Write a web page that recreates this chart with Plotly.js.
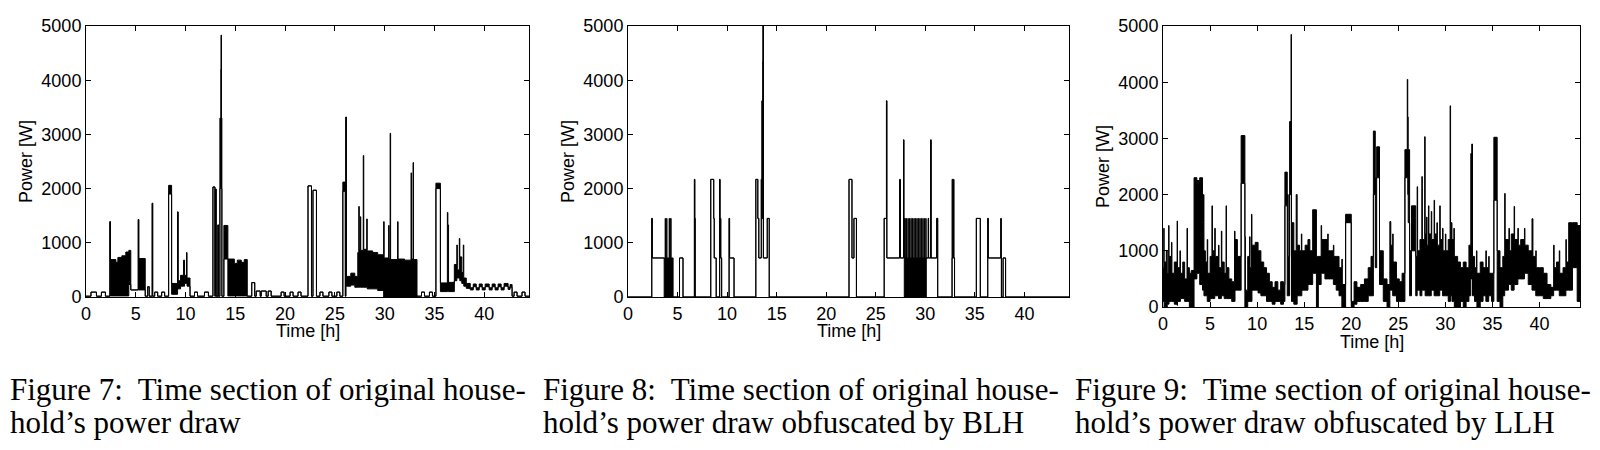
<!DOCTYPE html>
<html>
<head>
<meta charset="utf-8">
<script src="https://cdn.plot.ly/plotly-3.0.1.min.js"></script>
<style>
  html, body { margin: 0; padding: 0; background: #fff; }
  #chart { width: 1600px; height: 450px; }
</style>
</head>
<body>
<div id="chart"></div>
<script>
// Each row: [time h, low W, high W], held until the next row (step data, min/max per segment)
const seg7 = [
  [0,15,15],[0.5,90,90],[1.05,15,15],[1.55,90,90],[1.95,15,15],
  [2.4,1390,1390],[2.45,20,690],[3.0,20,640],[3.2,20,730],[3.6,20,760],[4.0,20,830],[4.3,230,860],[4.5,130,130],
  [5.25,1430,1430],[5.3,130,710],[5.95,15,15],[6.2,190,190],[6.35,15,15],[6.65,1730,1730],[6.7,15,15],
  [6.9,90,90],[7.2,15,15],[7.6,90,90],[7.9,15,15],
  [8.3,1900,2060],[8.6,50,250],[9.2,1570,1570],[9.25,150,300],[9.5,200,400],[9.8,200,680],[9.9,250,400],
  [10.1,250,820],[10.15,200,350],[10.45,15,15],
  [10.9,90,90],[11.2,15,15],[11.9,90,90],[12.3,15,15],
  [12.75,2030,2030],[12.95,15,15],[13.0,1990,1990],[13.08,15,15],[13.25,1330,1330],[13.3,15,15],
  [13.45,2000,3300],[13.55,2000,4200],[13.58,4830,4830],[13.61,2000,3300],[13.65,15,15],
  [13.85,700,1320],[14.25,20,700],[14.9,20,620],[15.2,20,680],[15.6,20,640],[15.9,20,690],[16.2,15,15],
  [16.65,265,265],[16.95,15,15],[17.1,110,110],[17.5,15,15],[17.6,110,110],[18.1,15,15],[18.3,110,110],[18.6,15,15],
  [19.6,90,90],[19.9,15,15],[20.5,90,90],[20.8,15,15],[21.3,90,90],[21.6,15,15],
  [22.3,2050,2050],[22.65,15,15],[22.8,1970,1970],[23.15,15,15],
  [23.5,90,90],[23.8,15,15],[24.4,90,90],[24.7,15,15],[25.2,90,90],[25.5,15,15],
  [25.8,1950,2120],[26.05,15,15],[26.1,3320,3320],[26.15,200,380],[26.6,220,440],[27.0,180,380],[27.3,180,820],
  [27.4,180,1670],[27.45,180,870],[27.55,180,1480],[27.6,180,860],[27.85,180,2610],[27.9,180,880],
  [28.2,180,1440],[28.25,150,850],[28.8,150,820],[29.3,120,780],
  [29.9,0,1390],[29.95,0,720],[30.4,0,1320],[30.45,0,700],[30.55,0,3020],[30.6,0,690],[31.3,0,1390],[31.35,0,700],
  [32.0,0,680],[32.65,0,2290],[32.7,0,700],[32.85,0,2480],[32.9,0,690],[33.25,15,15],
  [33.7,90,90],[34.0,15,15],[34.5,90,90],[34.8,15,15],
  [35.15,2000,2100],[35.6,100,260],[36.3,100,1560],[36.35,100,1330],[36.42,100,270],
  [37.0,300,600],[37.25,350,960],[37.3,350,500],[37.5,350,1080],[37.55,300,740],[37.75,250,450],[37.9,250,960],[37.95,200,350],
  [38.2,160,250],[38.6,130,170],[38.9,190,240],[39.2,130,170],[39.5,190,240],[39.8,130,170],[40.1,190,240],
  [40.5,130,170],[40.8,190,240],[41.1,130,170],[41.4,190,240],[41.7,130,170],[42.0,200,250],[42.4,140,180],
  [42.6,180,230],[42.8,15,15],[43.0,90,90],[43.3,15,15],[43.8,90,90],[44.1,15,15],[44.5,15,15]
];

const seg8 = [
  [0,0,0],[2.4,1450,1450],[2.45,720,720],[3.65,0,720],[3.75,0,1450],[3.78,0,720],[3.9,0,1450],[3.93,0,720],
  [4.15,0,1450],[4.2,0,720],[4.3,0,1450],[4.35,0,720],[4.55,0,0],
  [5.2,720,720],[5.55,0,0],[6.7,2170,2170],[6.74,1450,1450],[6.78,0,0],
  [8.35,2170,2170],[8.65,1450,1450],[8.7,720,720],[8.9,0,0],
  [9.25,2170,2170],[9.28,720,1450],[9.38,720,720],[9.45,0,0],
  [10.2,1450,1450],[10.25,720,720],[10.7,0,0],
  [12.9,2170,2170],[13.1,1450,1450],[13.2,720,720],[13.45,2170,2170],[13.5,1450,3620],[13.6,2170,4350],
  [13.63,5000,5000],[13.66,720,720],[14.05,1450,1450],[14.25,0,0],
  [22.3,2170,2170],[22.6,720,720],[22.8,1450,1450],[23.05,0,0],
  [25.85,1450,1450],[26.08,3620,3620],[26.12,720,720],[27.4,720,2170],[27.5,720,720],[27.8,2900,2900],
  [27.84,1450,1450],[27.88,0,720],
  [27.95,0,1450],[27.98,0,720],[28.1,0,1450],[28.13,0,720],[28.25,0,1450],[28.28,0,720],[28.4,0,1450],[28.43,0,720],
  [28.55,0,1450],[28.58,0,720],[28.7,0,1450],[28.73,0,720],[28.85,0,1450],[28.88,0,720],[29.0,0,1450],[29.03,0,720],
  [29.15,0,1450],[29.18,0,720],[29.3,0,1450],[29.33,0,720],[29.45,0,1450],[29.48,0,720],[29.6,0,1450],[29.63,0,720],
  [29.75,0,1450],[29.78,0,720],[29.9,0,1450],[29.93,0,720],[30.05,0,1450],[30.08,0,720],
  [30.1,720,720],[30.3,1450,1450],[30.33,720,720],[30.55,2900,2900],[30.58,720,720],[31.15,1450,1450],[31.25,0,0],
  [32.7,720,2170],[32.9,720,720],[32.95,0,0],
  [35.15,1450,1450],[35.55,0,0],
  [36.3,1450,1450],[36.35,720,720],[37.6,720,1450],[37.68,0,0],[37.85,720,720],[38.1,0,0],[44.5,0,0]
];

const seg9 = [
  [0.0,100,700],[0.08,100,1400],[0.12,0,800],[0.35,0,1000],[0.45,50,600],[0.6,50,1450],[0.64,100,900],
  [0.9,100,1150],[0.95,100,600],[1.2,50,800],[1.5,30,1530],[1.54,100,700],[1.8,100,1000],[1.85,150,600],
  [2.1,150,800],[2.3,100,500],[2.55,100,1400],[2.6,100,700],[2.8,0,600],[3.0,0,650],
  [3.3,500,2300],[3.6,600,2250],[3.9,400,2300],[4.2,300,1500],[4.3,300,2000],[4.35,200,1000],
  [4.5,200,800],[4.7,100,1200],[4.75,100,600],[5.0,150,900],[5.2,150,1800],[5.25,150,1000],[5.5,200,1400],
  [5.55,200,900],[5.9,150,1100],[5.95,150,700],[6.2,200,1350],[6.25,200,800],[6.5,150,600],[6.7,150,1800],
  [6.74,150,700],[7.0,150,500],[7.3,100,450],[7.6,100,1350],[7.65,300,1200],[7.9,300,900],
  [8.3,2200,3050],[8.7,0,1250],[8.75,0,300],[9.0,100,900],[9.2,100,1250],[9.25,100,700],[9.4,100,1650],
  [9.45,300,1100],[9.8,300,1150],[10.1,250,1000],[10.4,200,800],[10.7,200,700],[11.0,100,600],[11.3,100,450],
  [11.6,50,350],[11.9,100,450],[12.2,100,300],[12.5,50,450],[12.8,100,400],
  [12.95,1800,2400],[13.2,200,2000],[13.3,200,900],[13.45,2000,3300],[13.6,2000,4850],[13.65,100,1500],
  [13.9,50,1000],[14.15,50,2000],[14.25,200,1100],[14.5,200,1000],[14.7,200,1300],[14.75,300,1000],
  [15.1,300,1100],[15.4,400,1200],[15.6,400,1000],[15.9,600,1730],[16.3,0,900],[16.5,400,900],[16.8,600,1450],
  [16.85,600,1200],[17.2,500,1200],[17.5,500,1300],[17.55,500,1000],[17.8,500,1000],[18.1,400,1100],
  [18.15,400,900],[18.4,300,900],[18.7,200,700],[19.0,0,850],[19.05,0,400],[19.4,1500,1650],
  [20.0,0,100],[20.3,50,450],[20.6,100,350],[21.0,100,400],[21.4,100,500],[21.8,200,700],[22.1,200,900],
  [22.35,2000,3130],[22.55,700,2300],[22.7,2300,2850],[23.0,400,1000],[23.4,100,500],[23.8,0,400],
  [24.1,300,1520],[24.2,300,1100],[24.4,200,1300],[24.45,200,800],[24.8,100,500],[25.1,100,450],[25.4,100,600],
  [25.7,2300,2800],[25.95,2300,4050],[26.0,2000,3380],[26.05,1500,2800],[26.2,200,1000],[26.4,1000,1800],
  [26.85,200,900],[27.0,300,2140],[27.05,300,1000],[27.3,200,1200],[27.5,300,2320],[27.55,300,1200],
  [27.8,300,3030],[27.85,200,1300],[28.0,200,1600],[28.05,200,1100],[28.2,200,1800],[28.25,200,1300],
  [28.5,300,1700],[28.55,300,1200],[28.8,200,1900],[28.85,200,1300],[29.1,200,1500],[29.15,200,1100],
  [29.4,300,1800],[29.45,300,1200],[29.7,200,1400],[29.75,200,1000],[30.0,200,1300],[30.05,200,1000],
  [30.3,100,1200],[30.5,100,3580],[30.55,200,1500],[30.7,100,1200],[30.9,100,1400],[30.95,0,900],
  [31.3,0,800],[31.6,100,700],[31.9,0,800],[32.2,100,700],[32.5,200,1100],[32.7,500,2730],[32.8,500,2900],
  [32.88,200,900],[33.1,100,700],[33.3,100,1000],[33.35,0,600],[33.7,100,800],[34.0,200,700],[34.3,100,1000],
  [34.35,100,700],[34.6,200,900],[34.65,200,600],[34.9,100,600],[35.15,1900,3020],[35.5,100,1000],
  [35.8,0,700],[36.1,200,900],[36.3,300,2020],[36.35,300,1200],[36.7,400,1100],[36.75,400,1400],
  [36.8,400,1000],[37.0,300,1300],[37.3,500,1790],[37.35,400,1200],[37.7,500,1400],[37.75,500,1100],
  [38.0,500,1200],[38.4,600,1400],[38.45,600,1100],[38.8,400,1000],[39.2,300,1570],[39.3,300,900],
  [39.6,200,1000],[39.65,200,700],[40.0,200,700],[40.4,150,600],[40.8,150,400],[41.2,200,350],[41.5,300,1100],
  [41.55,300,700],[41.8,300,800],[42.1,200,1000],[42.15,200,600],[42.5,200,700],[42.8,300,1200],[42.85,300,800],
  [43.1,300,1500],[43.5,700,1500],[44.0,100,1450],[44.3,100,1450]
];

const xTicks = [0, 5, 10, 15, 20, 25, 30, 35, 40];
const yTicks = [0, 1000, 2000, 3000, 4000, 5000];
const captionLines = [
  ["Figure 7:  Time section of original house-", "hold’s power draw"],
  ["Figure 8:  Time section of original house-", "hold’s power draw obfuscated by BLH"],
  ["Figure 9:  Time section of original house-", "hold’s power draw obfuscated by LLH"]
];

const sans = "Liberation Sans, Arial, Helvetica, sans-serif";
const serif = "Liberation Serif, Times New Roman, serif";

function bandTraces(seg, xa, ya) {
  const t = seg.map(r => r[0]);
  const lo = seg.map(r => r[1]);
  const hi = seg.map(r => r[2]);
  const line = { color: "#000", width: 1, shape: "hv" };
  return [
    { x: t, y: lo, xaxis: xa, yaxis: ya, type: "scatter", mode: "lines", line: line, hoverinfo: "skip" },
    { x: t, y: hi, xaxis: xa, yaxis: ya, type: "scatter", mode: "lines", line: line,
      fill: "tonexty", fillcolor: "#000", hoverinfo: "skip" }
  ];
}

function xAxis(dom, anchor, maxT) {
  return {
    domain: dom, anchor: anchor, range: [0, maxT],
    tickvals: xTicks, ticks: "inside", ticklen: 5, tickcolor: "#000",
    showline: true, mirror: "ticks", linecolor: "#000", linewidth: 1,
    showgrid: false, zeroline: false, automargin: false,
    tickfont: { family: sans, size: 18, color: "#000" }
  };
}

function yAxis(dom, anchor) {
  return {
    domain: dom, anchor: anchor, range: [0, 5000],
    tickvals: yTicks, ticks: "inside", ticklen: 5, tickcolor: "#000",
    showline: true, mirror: "ticks", linecolor: "#000", linewidth: 1,
    showgrid: false, zeroline: false, automargin: false,
    tickfont: { family: sans, size: 18, color: "#000" },
    title: { text: "Power [W]", font: { family: sans, size: 18, color: "#000" }, standoff: 4 }
  };
}

const data = [].concat(
  bandTraces(seg7, "x", "y"),
  bandTraces(seg8, "x2", "y2"),
  bandTraces(seg9, "x3", "y3")
);

const annotations = [];
// x-axis titles sit tight under the tick labels, as in the original
[["x", 331], ["x2", 331], ["x3", 342]].forEach(([ax, yPx]) => {
  annotations.push({
    text: "Time [h]", xref: ax + " domain", yref: "paper", x: 0.5, y: 1 - yPx / 450,
    xanchor: "center", yanchor: "middle", showarrow: false,
    font: { family: sans, size: 18, color: "#000" }
  });
});

const captionX = [8, 541, 1073];
const captionY = [389, 422];
captionLines.forEach((lines, i) => {
  lines.forEach((txt, j) => {
    annotations.push({
      text: txt, xref: "paper", yref: "paper",
      x: captionX[i] / 1600, y: 1 - captionY[j] / 450,
      xanchor: "left", yanchor: "middle", align: "left", showarrow: false,
      font: { family: serif, size: 31, color: "#000" }
    });
  });
});

const layout = {
  width: 1600, height: 450,
  paper_bgcolor: "#fff", plot_bgcolor: "#fff",
  margin: { l: 0, r: 0, t: 0, b: 0 },
  showlegend: false,
  xaxis: xAxis([86 / 1600, 529 / 1600], "y", 44.5),
  yaxis: yAxis([1 - 297 / 450, 1 - 26 / 450], "x"),
  xaxis2: xAxis([628 / 1600, 1069 / 1600], "y2", 44.5),
  yaxis2: yAxis([1 - 297 / 450, 1 - 26 / 450], "x2"),
  xaxis3: xAxis([1163 / 1600, 1580 / 1600], "y3", 44.3),
  yaxis3: yAxis([1 - 307 / 450, 1 - 26 / 450], "x3"),
  annotations: annotations
};

Plotly.newPlot("chart", data, layout, { displayModeBar: false, staticPlot: true });
</script>
</body>
</html>
